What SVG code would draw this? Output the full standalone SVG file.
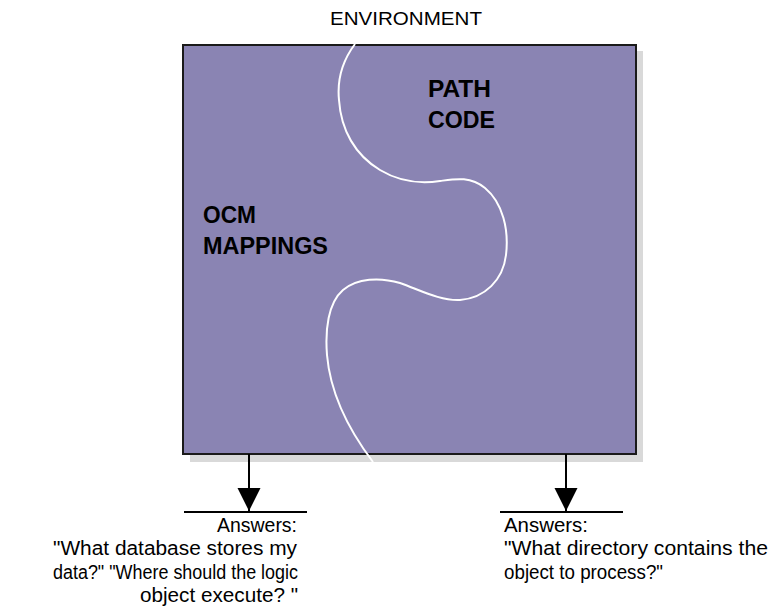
<svg xmlns="http://www.w3.org/2000/svg" width="773" height="613" viewBox="0 0 773 613">
<style>
.t{font-family:"Liberation Sans",Arial,sans-serif;fill:#000}
.lbl{font-size:23px;font-weight:bold}
.ans{font-size:20px}
.edge{stroke:#000;stroke-width:2;fill:none}
</style>
<defs>
<marker id="ah" markerUnits="userSpaceOnUse" markerWidth="24" markerHeight="24" refX="23" refY="12" orient="auto" viewBox="0 0 24 24">
<path d="M0,0.5 L0,23.5 L23,12 Z" fill="#000"/>
</marker>
</defs>
<rect width="773" height="613" fill="#fff"/>
<text class="t" x="330" y="25" font-size="18" textLength="152" lengthAdjust="spacingAndGlyphs">ENVIRONMENT</text>
<g id="environment">
<rect x="190" y="51" width="453" height="411" fill="#d9d9d9"/>
<rect x="183" y="45" width="453" height="409" fill="#8a84b3" stroke="#1a1a1a" stroke-width="2"/>
<path d="M355,44 C343,60 337,80 339,100 C341,130 355,155 380,170 C400,182 420,184 440,181 C455,179 470,176 485,188 C503,203 509,230 506,255 C503,280 485,298 460,300 C440,301 420,290 400,283 C380,277 357,278 343,290 C328,303 325,330 327,355 C330,390 345,425 373,462" fill="none" stroke="#fff" stroke-width="2"/>
</g>
<g id="path-code">
<text class="t lbl" x="428" y="97" textLength="63" lengthAdjust="spacingAndGlyphs">PATH</text>
<text class="t lbl" x="428" y="128" textLength="67" lengthAdjust="spacingAndGlyphs">CODE</text>
</g>
<g id="ocm-mappings">
<text class="t lbl" x="203" y="223" textLength="53" lengthAdjust="spacingAndGlyphs">OCM</text>
<text class="t lbl" x="203" y="254" textLength="125" lengthAdjust="spacingAndGlyphs">MAPPINGS</text>
</g>
<g id="connectors">
<line class="edge" x1="249" y1="454" x2="249" y2="511" marker-end="url(#ah)"/>
<line class="edge" x1="566" y1="454" x2="566" y2="511" marker-end="url(#ah)"/>
<line class="edge" x1="184" y1="512" x2="307" y2="512"/>
<line class="edge" x1="500" y1="512" x2="623" y2="512"/>
</g>
<g id="ocm-answer">
<text class="t ans" x="297" y="532" text-anchor="end" textLength="80" lengthAdjust="spacingAndGlyphs">Answers:</text>
<text class="t ans" x="297" y="555" text-anchor="end" textLength="244" lengthAdjust="spacingAndGlyphs">"What database stores my</text>
<text class="t ans" x="298" y="579" text-anchor="end" textLength="245" lengthAdjust="spacingAndGlyphs">data?" "Where should the logic</text>
<text class="t ans" x="298" y="602" text-anchor="end" textLength="158" lengthAdjust="spacingAndGlyphs">object execute? "</text>
</g>
<g id="path-answer">
<text class="t ans" x="504" y="532" textLength="84" lengthAdjust="spacingAndGlyphs">Answers:</text>
<text class="t ans" x="504" y="555" textLength="264" lengthAdjust="spacingAndGlyphs">"What directory contains the</text>
<text class="t ans" x="504" y="579" textLength="159" lengthAdjust="spacingAndGlyphs">object to process?"</text>
</g>
</svg>
